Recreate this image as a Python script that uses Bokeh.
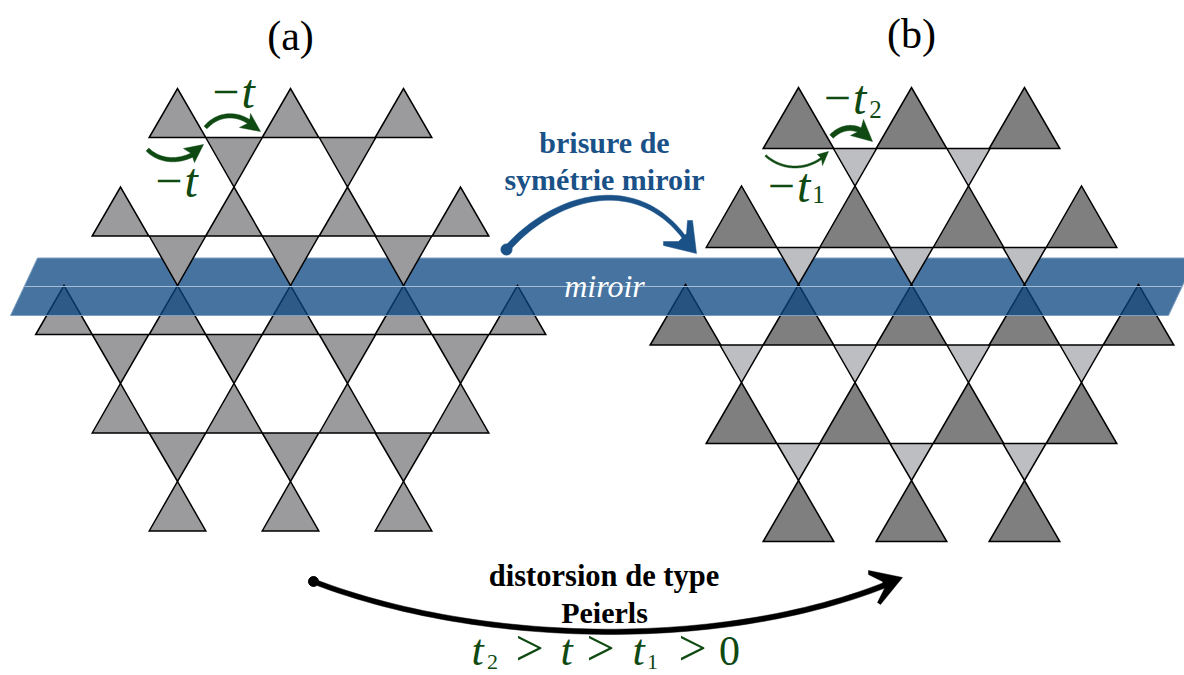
import numpy as np
from bokeh.plotting import figure
from bokeh.models import Range1d
from bokeh.core.properties import value
from bokeh.embed import file_html
from bokeh.resources import INLINE

# ---- lattice (a): apex x of each row, (apex y, base y) in reference pixels
a_half = 28.3
a_up_rows = [([177, 290, 403], 88, 137),
             ([120, 233.5, 347, 460], 186.5, 235.5),
             ([63.5, 177, 290, 403, 517], 285, 334),
             ([120, 233.5, 347, 460], 383, 432.5),
             ([177, 290, 403], 481, 530.5)]
a_down_rows = [([233.5, 347], 186.5, 137),
               ([177, 290, 403], 285, 235.5),
               ([120, 233.5, 347, 460], 383, 334),
               ([177, 290, 403], 481, 432.5)]
# ---- lattice (b)
b_big_half = 35.3
b_small_half = 21.6
b_up_rows = [([798, 911, 1024], 87, 148),
             ([741, 854.5, 968, 1081], 185.5, 247),
             ([685, 798, 911, 1024, 1138], 284, 344.5),
             ([741, 854.5, 968, 1081], 382, 443),
             ([798, 911, 1024], 480, 541)]
b_down_rows = [([854.5, 968], 185.5, 148),
               ([798, 911, 1024], 284, 247),
               ([741, 854.5, 968, 1081], 382, 344.5),
               ([798, 911, 1024], 480, 443)]

band_top_x = [37, 1195, 1181.7, 23.7]
band_top_y = [257.5, 257.5, 286, 286]
band_low_x = [23.7, 1181.7, 1168, 10]
band_low_y = [286, 286, 315, 315]
band_line_x = [24, 1181]
band_line_y = [286, 286]

# arrows: bezier control points, stroke width at start/end, head outline
blue_ctrl = [(506, 249), (550, 198), (635, 168), (686, 240)]
blue_head = [(687, 220), (692, 220), (696, 253), (663, 245), (663, 241), (678, 241), (686, 233)]
black_ctrl = [(313, 581), (480, 645), (720, 650), (886, 584)]
black_head = [(868, 570), (902, 577), (880, 604), (877, 602), (884, 588), (882, 581), (868, 574)]
g1_ctrl = [(205, 127), (218, 112), (238, 112), (252, 124)]
g1_head = [(250, 113), (260, 131), (239, 127), (249, 122)]
g2_ctrl = [(147, 149), (160, 162), (180, 162), (196, 152)]
g2_head = [(183, 148), (203, 144), (194, 162), (191, 153)]
g3_ctrl = [(831, 136), (842, 125), (856, 125), (866, 134)]
g3_head = [(863, 119), (872, 141), (850, 135), (860, 130)]
g4_ctrl = [(765, 155), (782, 170), (805, 170), (822, 157)]
g4_head = [(817, 154), (828, 151), (822, 165), (821, 158)]

BLUE = "#1a5288"
GREEN = "#0f4a12"
SERIF = value("Liberation Serif")

p = figure(width=1184, height=675, x_range=Range1d(0, 1184), y_range=Range1d(675, 0),
           output_backend="svg", toolbar_location=None, min_border=0)
p.axis.visible = False
p.grid.visible = False
p.outline_line_color = None
p.background_fill_color = "white"


def tris(rows, half):
    xs, ys = [], []
    for apex_xs, apex_y, base_y in rows:
        for x in apex_xs:
            xs.append([x - half, x, x + half])
            ys.append([base_y, apex_y, base_y])
    return xs, ys


def draw(rows, half, color):
    xs, ys = tris(rows, half)
    p.patches(xs, ys, fill_color=color, line_color="#000000", line_width=1.5, line_join="miter")


p.patch(band_top_x, band_top_y, fill_color="#084480", fill_alpha=0.75, line_color="#7f9fc0", line_width=1)
draw(a_down_rows, a_half, "#9b9b9d")
draw(a_up_rows, a_half, "#9b9b9d")
draw(b_down_rows, b_small_half, "#bdbec1")
draw(b_up_rows, b_big_half, "#7f7f80")
p.patch(band_low_x, band_low_y, fill_color="#084480", fill_alpha=0.75, line_color="#7f9fc0", line_width=1)
p.line(band_line_x, band_line_y, line_color="white", line_alpha=0.3, line_width=1)


def stroke(ctrl, w0, w1, color):
    c = np.array(ctrl, float)
    t = np.linspace(0, 1, 60)[:, None]
    pts = ((1 - t) ** 3 * c[0] + 3 * (1 - t) ** 2 * t * c[1] + 3 * (1 - t) * t ** 2 * c[2] + t ** 3 * c[3])
    d = np.gradient(pts, axis=0)
    n = np.c_[-d[:, 1], d[:, 0]] / np.hypot(d[:, 0], d[:, 1])[:, None]
    w = (w0 + (w1 - w0) * t) / 2
    up, dn = pts + n * w, pts - n * w
    poly = np.r_[up, dn[::-1]]
    p.patch(poly[:, 0], poly[:, 1], fill_color=color, line_color=color, line_width=0.5)


def head(h, color):
    p.patch([q[0] for q in h], [q[1] for q in h], fill_color=color, line_color=color, line_width=0.5)


stroke(blue_ctrl, 6.5, 4, BLUE); head(blue_head, BLUE)
p.scatter([blue_ctrl[0][0]], [blue_ctrl[0][1]], size=11, color=BLUE)
stroke(black_ctrl, 5, 5.5, "#000000"); head(black_head, "#000000")
p.scatter([black_ctrl[0][0]], [black_ctrl[0][1]], size=10, color="#000000")
stroke(g1_ctrl, 4, 4.5, GREEN); head(g1_head, GREEN)
stroke(g2_ctrl, 4, 4.5, GREEN); head(g2_head, GREEN)
stroke(g3_ctrl, 5, 5.5, GREEN); head(g3_head, GREEN)
stroke(g4_ctrl, 2, 2, GREEN); head(g4_head, GREEN)


def label(x, y, s, size, color="#000000", style="normal"):
    p.text([x], [y - 0.32 * size], text=[s], text_font=SERIF, text_font_size=f"{size}px", text_color=color,
           text_font_style=style, text_align="center", text_baseline="alphabetic")


label(290, 49, "(a)", 42)
label(911, 47, "(b)", 42)
label(231.5, 106, "\u2212t", 48, GREEN, "italic")
label(174.5, 195, "\u2212t", 48, GREEN, "italic")
label(843, 112, "\u2212t", 48, GREEN, "italic")
label(875, 117, "2", 25, GREEN)
label(787, 200, "\u2212t", 48, GREEN, "italic")
label(818, 202, "1", 25, GREEN)
label(604, 152, "brisure de", 30, BLUE, "bold")
label(604, 189, "sym\u00e9trie miroir", 30, BLUE, "bold")
label(604, 296, "miroir", 32, "#ffffff", "italic")
label(603.5, 585, "distorsion de type", 30.5, "#000000", "bold")
label(604, 622, "Peierls", 30, "#000000", "bold")
label(477, 664, "t", 44, GREEN, "italic")
label(492, 669, "2", 22, GREEN)
label(529, 663, ">", 50, GREEN)
label(566, 664, "t", 44, GREEN, "italic")
label(600, 663, ">", 50, GREEN)
label(638, 664, "t", 44, GREEN, "italic")
label(652, 669, "1", 22, GREEN)
label(692, 663, ">", 50, GREEN)
label(729, 664, "0", 42, GREEN)

open("out.html", "w").write(file_html(p, INLINE))
